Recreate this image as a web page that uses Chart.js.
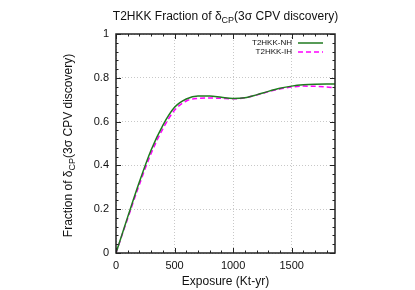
<!DOCTYPE html>
<html>
<head>
<meta charset="utf-8">
<script src="https://cdn.jsdelivr.net/npm/chart.js@4"></script>
<style>
  html, body { margin: 0; padding: 0; background: #fff; }
  canvas { display: block; }
</style>
</head>
<body>
<canvas id="c" width="415" height="290"></canvas>
<script>
// exposure in kt-yr, fraction of deltaCP values with 3 sigma CPV discovery
const exposure = [0, 100, 200, 300, 400, 500, 600, 700, 800, 900, 1000, 1100, 1200, 1300, 1400, 1500, 1600, 1700, 1800, 1870];
const fracNH = [0, 0.165, 0.325, 0.47, 0.583, 0.665, 0.703, 0.717, 0.717, 0.711, 0.706, 0.709, 0.722, 0.738, 0.752, 0.762, 0.768, 0.771, 0.772, 0.772];
const fracIH = [0, 0.158, 0.313, 0.455, 0.567, 0.652, 0.694, 0.706, 0.708, 0.706, 0.704, 0.709, 0.721, 0.736, 0.749, 0.758, 0.762, 0.761, 0.758, 0.755];

const seriesNames = ['T2HKK-NH', 'T2HKK-IH'];
const xTicks = [0, 500, 1000, 1500];
const yTicks = [0, 0.2, 0.4, 0.6, 0.8, 1];
const xMax = 1870;

const FONT = '"Liberation Sans", Arial, sans-serif';
const GREEN = '#1f7a1f';
const MAGENTA = '#ff00ff';

// text with a subscript "CP" after delta
function drawSubText(ctx, parts, x, y, align) {
  const big = '12px ' + FONT;
  const small = '9px ' + FONT;
  let w = 0;
  for (const p of parts) {
    ctx.font = p.sub ? small : big;
    w += ctx.measureText(p.t).width;
  }
  let cx = align === 'center' ? x - w / 2 : x;
  ctx.textAlign = 'left';
  ctx.textBaseline = 'alphabetic';
  for (const p of parts) {
    ctx.font = p.sub ? small : big;
    ctx.fillText(p.t, cx, p.sub ? y + 3 : y);
    cx += ctx.measureText(p.t).width;
  }
}

const decor = {
  id: 'decor',
  afterDraw(chart) {
    const { ctx, chartArea: a, scales } = chart;
    const xs = scales.x, ys = scales.y;
    ctx.save();
    ctx.strokeStyle = '#222';
    ctx.lineWidth = 1;

    // inward ticks on all four sides
    ctx.beginPath();
    for (let v = 0; v <= xMax; v += 100) {
      const px = Math.round(xs.getPixelForValue(v)) + 0.5;
      const len = v % 500 === 0 ? 5 : 2.5;
      ctx.moveTo(px, a.bottom); ctx.lineTo(px, a.bottom - len);
      ctx.moveTo(px, a.top); ctx.lineTo(px, a.top + len);
    }
    for (let i = 0; i <= 25; i++) {
      const v = i * 0.04;
      const py = Math.round(ys.getPixelForValue(v)) + 0.5;
      const len = i % 5 === 0 ? 5 : 2.5;
      ctx.moveTo(a.left, py); ctx.lineTo(a.left + len, py);
      ctx.moveTo(a.right, py); ctx.lineTo(a.right - len, py);
    }
    ctx.stroke();

    // frame
    ctx.lineWidth = 1.5;
    ctx.strokeRect(a.left, a.top, a.right - a.left, a.bottom - a.top);

    // legend
    ctx.font = '8px ' + FONT;
    ctx.fillStyle = '#111';
    ctx.textAlign = 'right';
    ctx.textBaseline = 'middle';
    const rows = [
      { name: seriesNames[0], color: GREEN, dash: [] },
      { name: seriesNames[1], color: MAGENTA, dash: [5, 3] },
    ];
    rows.forEach((r, i) => {
      const y = a.top + 9 + i * 9;
      ctx.fillText(r.name, a.right - 43, y);
      ctx.strokeStyle = r.color;
      ctx.lineWidth = 1.5;
      ctx.setLineDash(r.dash);
      ctx.beginPath();
      ctx.moveTo(a.right - 37, y);
      ctx.lineTo(a.right - 12, y);
      ctx.stroke();
    });
    ctx.setLineDash([]);

    // title
    ctx.fillStyle = '#111';
    const label = [
      { t: 'Fraction of \u03b4' },
      { t: 'CP', sub: true },
      { t: '(3\u03c3 CPV discovery)' },
    ];
    drawSubText(ctx, [{ t: 'T2HKK ' }].concat(label), (a.left + a.right) / 2, 20, 'center');

    // y axis title, rotated
    ctx.save();
    ctx.translate(72, (a.top + a.bottom) / 2 + 2);
    ctx.rotate(-Math.PI / 2);
    drawSubText(ctx, label, 0, 0, 'center');
    ctx.restore();

    // x axis title
    ctx.font = '12px ' + FONT;
    ctx.textAlign = 'center';
    ctx.textBaseline = 'middle';
    ctx.fillText('Exposure (Kt-yr)', (a.left + a.right) / 2, 282);
    ctx.restore();
  },
};

new Chart(document.getElementById('c'), {
  type: 'line',
  data: {
    datasets: [
      {
        label: seriesNames[0],
        data: exposure.map((x, i) => ({ x, y: fracNH[i] })),
        borderColor: GREEN,
        borderWidth: 1.5,
        pointRadius: 0,
        cubicInterpolationMode: 'monotone',
        fill: false,
      },
      {
        label: seriesNames[1],
        data: exposure.map((x, i) => ({ x, y: fracIH[i] })),
        borderColor: MAGENTA,
        borderWidth: 1.5,
        borderDash: [5, 3],
        pointRadius: 0,
        cubicInterpolationMode: 'monotone',
        fill: false,
      },
    ],
  },
  options: {
    responsive: false,
    animation: false,
    devicePixelRatio: 1,
    layout: { padding: { left: 0, top: 34, right: 80, bottom: 0 } },
    plugins: { legend: { display: false }, tooltip: { enabled: false }, title: { display: false } },
    scales: {
      x: {
        type: 'linear',
        min: 0,
        max: xMax,
        afterBuildTicks: (s) => { s.ticks = xTicks.map((v) => ({ value: v })); },
        afterFit: (s) => { s.height = 37; },
        grid: { color: '#c8c8c8', drawTicks: false },
        border: { display: false, dash: [1, 2] },
        ticks: {
          color: '#111',
          font: { family: FONT, size: 11 },
          padding: 6,
          maxRotation: 0,
          callback: (v) => String(v),
        },
      },
      y: {
        min: 0,
        max: 1,
        afterBuildTicks: (s) => { s.ticks = yTicks.map((v) => ({ value: v })); },
        afterFit: (s) => { s.width = 116; },
        grid: { color: '#c8c8c8', drawTicks: false },
        border: { display: false, dash: [1, 2] },
        ticks: {
          color: '#111',
          font: { family: FONT, size: 11 },
          padding: 7,
          callback: (v) => String(Math.round(v * 10) / 10),
        },
      },
    },
  },
  plugins: [decor],
});
</script>
</body>
</html>
